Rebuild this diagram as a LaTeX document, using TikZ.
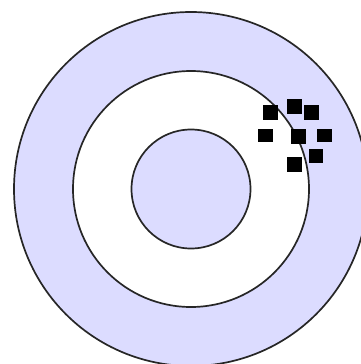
\documentclass[tikz,border=0pt]{standalone}
\begin{document}
\begin{tikzpicture}[x=1pt,y=-1pt,
  ring/.style={draw=black!85,line width=1.7pt},
  hit/.style={fill=black}]
\useasboundingbox (0,0) rectangle (361,364);
\fill[white] (0,0) rectangle (361,364);
\begin{scope}
\clip (0,0) rectangle (361,364);
\draw[ring,fill={rgb,255:red,220;green,220;blue,255}] (191,189) circle (177);
\draw[ring,fill=white] (191,189) circle (118);
\draw[ring,fill={rgb,255:red,220;green,220;blue,255}] (191,189) circle (59.5);
\end{scope}
\fill[hit] (262.5,105) rectangle (277.5,120);
\fill[hit] (286.5,98.5) rectangle (301.5,113.5);
\fill[hit] (304,105) rectangle (319,120);
\fill[hit] (257.5,129) rectangle (273.3,141.7);
\fill[hit] (291,129) rectangle (306,144);
\fill[hit] (316.7,129) rectangle (332.3,141.7);
\fill[hit] (308.5,148.7) rectangle (323.3,163.3);
\fill[hit] (286.5,157) rectangle (301.5,172.3);
\end{tikzpicture}
\end{document}
